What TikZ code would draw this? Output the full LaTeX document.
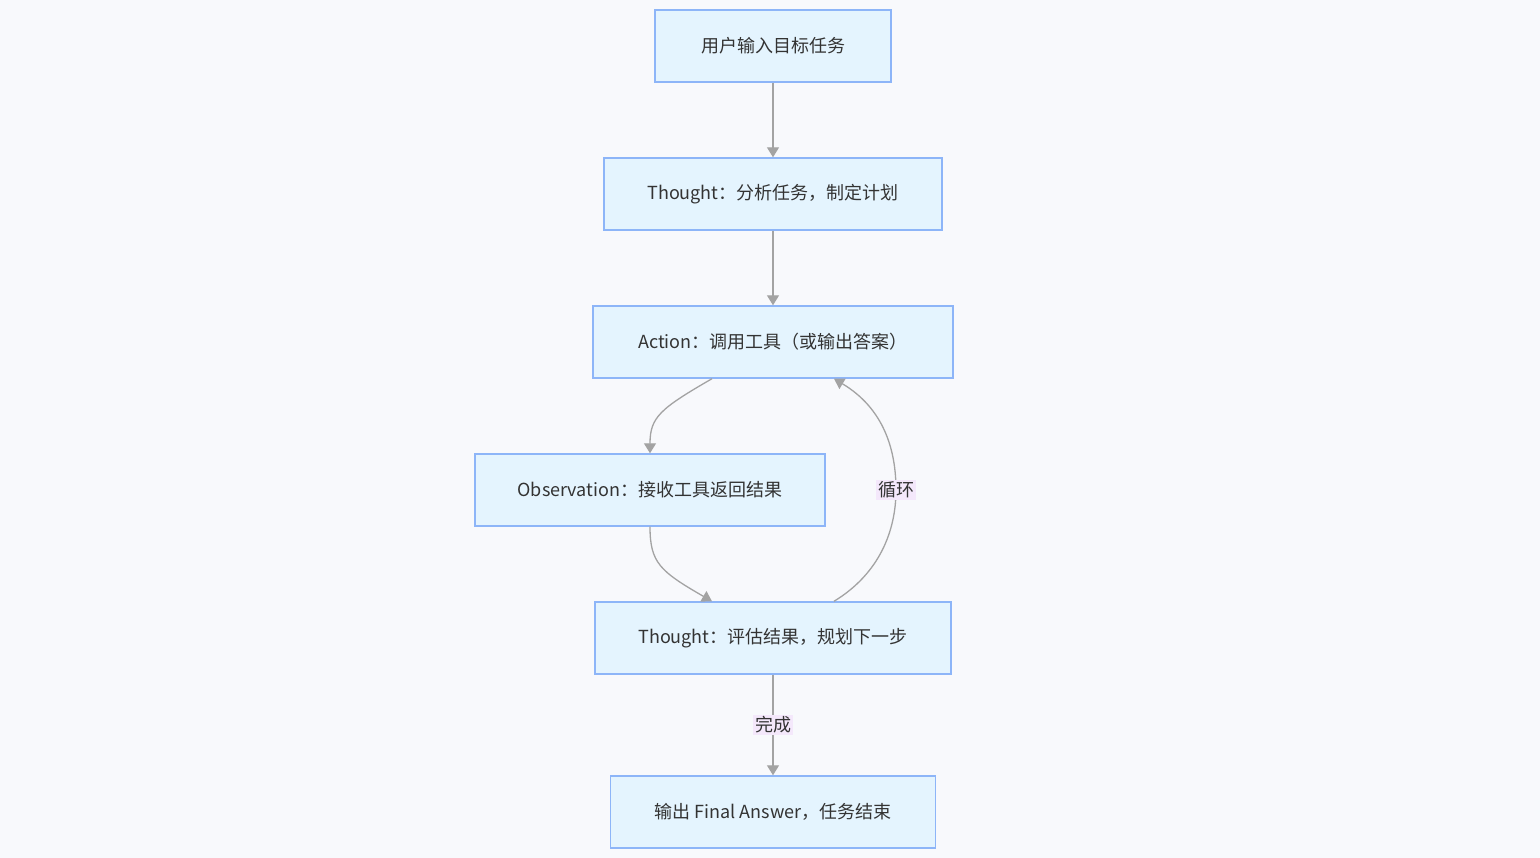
\documentclass[tikz,border=0pt]{standalone}
\usepackage{fontspec}
\setmainfont{Noto Sans CJK SC}
\usetikzlibrary{arrows.meta}
\definecolor{bgc}{HTML}{F8F9FC}
\definecolor{nodefill}{HTML}{E4F4FE}
\definecolor{nodedraw}{HTML}{8DB5F8}
\definecolor{edgec}{HTML}{A3A3A3}
\definecolor{labfill}{HTML}{F4E8FB}
\definecolor{txt}{HTML}{333333}
\tikzset{
  box/.style={draw=nodedraw, fill=nodefill, line width=1.4pt, minimum height=72pt, inner sep=0pt, text=txt, font=\fontsize{18}{21}\selectfont},
  conn/.style={draw=edgec, line width=1.3pt, -{Triangle[width=12pt,length=10pt]}},
  elabel/.style={fill=labfill, text=txt, inner sep=2pt, font=\fontsize{18}{21}\selectfont}
}
\begin{document}
\begin{tikzpicture}[x=1pt,y=-1pt]
\fill[bgc] (0,0) rectangle (1540,858);
\useasboundingbox (0,0) rectangle (1540,858);
\node[box, minimum width=236pt] (n1) at (773,46) {用户输入目标任务};
\node[box, minimum width=338pt] (n2) at (773,194) {Thought：分析任务，制定计划};
\node[box, minimum width=360pt] (n3) at (773,342) {Action：调用工具（或输出答案）};
\node[box, minimum width=350pt] (n4) at (650,490) {Observation：接收工具返回结果};
\node[box, minimum width=356pt] (n5) at (773,638) {Thought：评估结果，规划下一步};
\node[box, minimum width=325pt] (n6) at (773,812) {输出 Final Answer，任务结束};
\draw[conn] (n1.south) -- (n2.north);
\draw[conn] (n2.south) -- (n3.north);
\draw[conn] ([xshift=-61pt]n3.south) .. controls +(-52,30) and +(0,-36) .. (n4.north);
\draw[conn] (n4.south) .. controls +(0,36) and +(-52,-30) .. ([xshift=-61pt]n5.north);
\draw[conn] ([xshift=61pt]n5.north) .. controls +(46,-28) and +(0,40) .. (896,490) coordinate (lp) .. controls +(0,-40) and +(50,30) .. ([xshift=61pt]n3.south);
\node[elabel] (l1) at (lp) {循环};
\draw[conn] (n5.south) -- (n6.north) node[elabel, pos=0.5] (l2) {完成};
\end{tikzpicture}
\end{document}
